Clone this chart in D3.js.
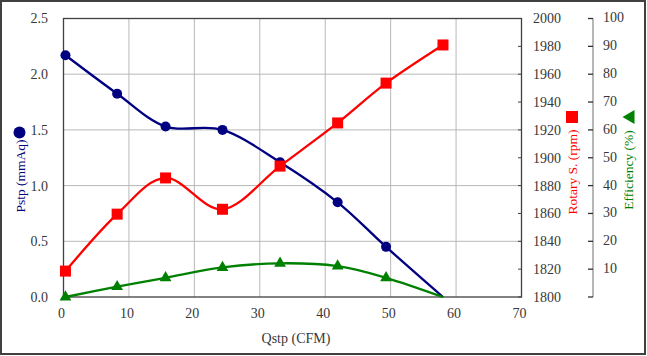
<!DOCTYPE html>
<html><head><meta charset="utf-8">
<script src="https://cdn.jsdelivr.net/npm/d3@7"></script>
<style>
body{margin:0;background:#fff}
svg{display:block}
</style>
</head><body><svg id="c" width="647" height="356" font-family="'Liberation Serif', 'Times New Roman', Times, 'DejaVu Serif', serif"></svg>
<script>
// ---- data ----
const qstp       = [0.3, 8.2, 15.6, 24.3, 33.1, 41.9, 49.3, 58.0];
const pstp       = [2.17, 1.825, 1.53, 1.50, 1.21, 0.85, 0.45, 0.0];
const rotary     = [1818.6, 1859.5, 1885.5, 1863, 1894, 1925, 1953.6, 1981];
const efficiency = [0, 3.7, 6.9, 10.6, 12.1, 11.1, 6.9, 0];
const xTicks = [0, 10, 20, 30, 40, 50, 60, 70];
const pTicks = [0.0, 0.5, 1.0, 1.5, 2.0, 2.5];
const rTicks = [1800, 1820, 1840, 1860, 1880, 1900, 1920, 1940, 1960, 1980, 2000];
const eTicks = [0, 10, 20, 30, 40, 50, 60, 70, 80, 90, 100];

const svg = d3.select("#c");
const L = 63.5, R = 521.5, T = 18.5, B = 297;
const x = d3.scaleLinear().domain([0, 70]).range([L, R]);
const yP = d3.scaleLinear().domain([0, 2.5]).range([B, T]);
const yR = d3.scaleLinear().domain([1800, 2000]).range([B, T]);
const yE = d3.scaleLinear().domain([0, 100]).range([B, T]);

// outer border
svg.append("rect").attr("x", 1).attr("y", 1).attr("width", 644).attr("height", 353)
  .attr("fill", "#fff").attr("stroke", "#404040").attr("stroke-width", 2);

// grid
const g = svg.append("g");
g.selectAll(".vg").data(xTicks.slice(1, -1)).join("line")
  .attr("x1", d => x(d)).attr("x2", d => x(d)).attr("y1", T).attr("y2", B)
  .attr("stroke", "#b8b8b8").attr("stroke-width", 1);
g.selectAll(".hg").data(pTicks.slice(1, -1)).join("line")
  .attr("x1", L).attr("x2", R).attr("y1", d => yP(d)).attr("y2", d => yP(d))
  .attr("stroke", "#b8b8b8").attr("stroke-width", 1);

// plot border
svg.append("rect").attr("x", L).attr("y", T).attr("width", R - L).attr("height", B - T)
  .attr("fill", "none").attr("stroke", "#404040").attr("stroke-width", 1.3);

// rpm axis ticks (inside)
svg.selectAll(".rt").data(rTicks).join("line")
  .attr("x1", R - 3.5).attr("x2", R).attr("y1", d => yR(d)).attr("y2", d => yR(d))
  .attr("stroke", "#404040").attr("stroke-width", 1);

// efficiency axis
const EX = 593;
svg.append("line").attr("x1", EX).attr("x2", EX).attr("y1", yE(100)).attr("y2", yE(0))
  .attr("stroke", "#909090").attr("stroke-width", 1.3);
svg.selectAll(".et").data(eTicks).join("line")
  .attr("x1", EX - 5).attr("x2", EX).attr("y1", d => yE(d)).attr("y2", d => yE(d))
  .attr("stroke", "#303030").attr("stroke-width", 1.3);

// tick labels
const tc = "#383838";
svg.selectAll(".pl").data(pTicks).join("text")
  .attr("x", 48).attr("y", d => yP(d)).attr("dy", "0.35em").attr("text-anchor", "end")
  .attr("font-size", 14).attr("fill", tc).text(d => d.toFixed(1));
svg.selectAll(".xl").data(xTicks).join("text")
  .attr("x", d => x(d) - 2).attr("y", 318).attr("text-anchor", "middle")
  .attr("font-size", 14).attr("fill", tc).text(d => d);
svg.selectAll(".rl").data(rTicks).join("text")
  .attr("x", 533).attr("y", d => yR(d)).attr("dy", "0.35em").attr("text-anchor", "start")
  .attr("font-size", 14).attr("fill", tc).text(d => d);
svg.selectAll(".el").data(eTicks.filter(d => d > 0)).join("text")
  .attr("x", 603).attr("y", d => yE(d) - 1).attr("dy", "0.35em").attr("text-anchor", "start")
  .attr("font-size", 14).attr("fill", tc).text(d => d);

// axis titles
svg.append("text").attr("x", 296).attr("y", 343).attr("text-anchor", "middle")
  .attr("font-size", 14).attr("fill", tc).text("Qstp (CFM)");
svg.append("text").attr("transform", "translate(20,176) rotate(-90)")
  .attr("text-anchor", "middle").attr("dy", "0.35em")
  .attr("font-size", 13.5).attr("fill", "#000080").text("Pstp (mmAq)");
svg.append("circle").attr("cx", 19.5).attr("cy", 132.5).attr("r", 6).attr("fill", "#000080");
svg.append("text").attr("transform", "translate(572,172) rotate(-90)")
  .attr("text-anchor", "middle").attr("dy", "0.35em")
  .attr("font-size", 13.5).attr("fill", "#ff0000").text("Rotary S. (rpm)");
svg.append("rect").attr("x", 566).attr("y", 111).attr("width", 12).attr("height", 12).attr("fill", "#ff0000");
svg.append("text").attr("transform", "translate(628,170) rotate(-90)")
  .attr("text-anchor", "middle").attr("dy", "0.35em")
  .attr("font-size", 13.5).attr("fill", "#008000").text("Efficiency (%)");
svg.append("path").attr("d", "M622.5,117 L634.5,110 L634.5,124 Z").attr("fill", "#008000");

// series
const curve = d3.curveCardinal.tension(0);
function series(ys, yScale, color) {
  const pts = qstp.map((q, i) => [x(q), yScale(ys[i])]);
  svg.append("path").attr("d", d3.line().curve(curve)(pts))
    .attr("fill", "none").attr("stroke", color).attr("stroke-width", 2.3);
  return pts;
}
const pP = series(pstp, yP, "#000080");
const pE = series(efficiency, yE, "#008000");
const pR = series(rotary, yR, "#ff0000");

svg.selectAll(".mc").data(pP.slice(0, -1)).join("circle")
  .attr("cx", d => d[0]).attr("cy", d => d[1]).attr("r", 5).attr("fill", "#000080");
svg.selectAll(".mt").data(pE.slice(0, -1)).join("path")
  .attr("transform", d => `translate(${d[0]},${d[1]})`)
  .attr("d", d3.symbol(d3.symbolTriangle, 60)()).attr("fill", "#008000");
svg.selectAll(".ms").data(pR).join("rect")
  .attr("x", d => d[0] - 5.5).attr("y", d => d[1] - 5.5).attr("width", 11).attr("height", 11)
  .attr("fill", "#ff0000");
</script></body></html>
